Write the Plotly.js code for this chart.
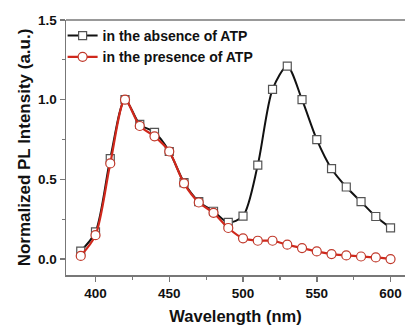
<!DOCTYPE html>
<html><head><meta charset="utf-8">
<script src="https://cdn.plot.ly/plotly-3.0.1.min.js"></script>
<style>html,body{margin:0;padding:0;background:#fff}#c{width:405px;height:326px}</style>
</head><body><div id="c"></div>
<script>
const wavelength = [390,400,410,420,430,440,450,460,470,480,490,500,510,520,530,540,550,560,570,580,590,600];
const absenceATP = [0.05,0.17,0.63,1.0,0.845,0.795,0.675,0.48,0.36,0.30,0.23,0.27,0.59,1.065,1.21,1.0,0.75,0.567,0.452,0.36,0.267,0.196];
const presenceATP = [0.02,0.15,0.60,1.0,0.835,0.77,0.675,0.475,0.355,0.29,0.195,0.13,0.115,0.115,0.09,0.069,0.048,0.031,0.023,0.016,0.01,0.0];
const seriesNames = ['in the absence of ATP','in the presence of ATP'];

const F = 'Arial, "Liberation Sans", sans-serif';
const traces = [
  {x: wavelength, y: absenceATP, name: seriesNames[0], type:'scatter', mode:'lines+markers',
   line:{color:'#111', width:2, shape:'spline', smoothing:0.8},
   marker:{symbol:'square', size:8, color:'#fff', line:{width:1.2, color:'#555'}}},
  {x: wavelength, y: presenceATP, name: seriesNames[1], type:'scatter', mode:'lines+markers',
   line:{color:'#d0281c', width:2.2, shape:'spline', smoothing:0.8},
   marker:{symbol:'circle', size:9, color:'#fff', line:{width:1.2, color:'#c0392b'}}}
];
const layout = {
  width:405, height:326,
  margin:{l:66, r:0, t:20, b:51},
  paper_bgcolor:'#fff', plot_bgcolor:'#fff',
  font:{family:F, color:'#111', size:13, weight:'bold'},
  showlegend:true,
  legend:{x:-0.01, y:1.0, xanchor:'left', yanchor:'top', bgcolor:'rgba(0,0,0,0)',
          font:{family:F, size:14, weight:'bold', color:'#111'}, tracegroupgap:0, itemwidth:30},
  xaxis:{range:[380, 609.8], tickvals:[400,450,500,550,600], showgrid:false, zeroline:false,
         showline:true, linecolor:'#777', linewidth:1.5, mirror:false,
         ticks:'outside', ticklen:5, tickcolor:'#777', tickwidth:1.5,
         minor:{tickvals:[425,475,525,575], ticks:'outside', ticklen:3, tickcolor:'#777', tickwidth:1.2},
         tickfont:{family:F, size:13.5, weight:'bold', color:'#111'},
         title:{text:'Wavelength (nm)', font:{family:F, size:16.5, weight:'bold', color:'#111'}, standoff:10}},
  yaxis:{range:[-0.1, 1.5], tickvals:[0,0.5,1.0,1.5], tickformat:'.1f', showgrid:false, zeroline:false,
         showline:true, linecolor:'#777', linewidth:1.5,
         ticks:'outside', ticklen:5, tickcolor:'#777', tickwidth:1.5,
         minor:{tickvals:[0.25,0.75,1.25], ticks:'outside', ticklen:3, tickcolor:'#777', tickwidth:1.2},
         tickfont:{family:F, size:13.5, weight:'bold', color:'#111'},
         title:{text:'Normalized PL Intensity (a.u.)', font:{family:F, size:17, weight:'bold', color:'#111'}, standoff:3}},
  shapes:[{type:'line', xref:'paper', yref:'paper', x0:0, x1:1, y0:1, y1:1, line:{color:'#777', width:1.5}}]
};
Plotly.newPlot('c', traces, layout, {displayModeBar:false, staticPlot:true});
</script></body></html>
